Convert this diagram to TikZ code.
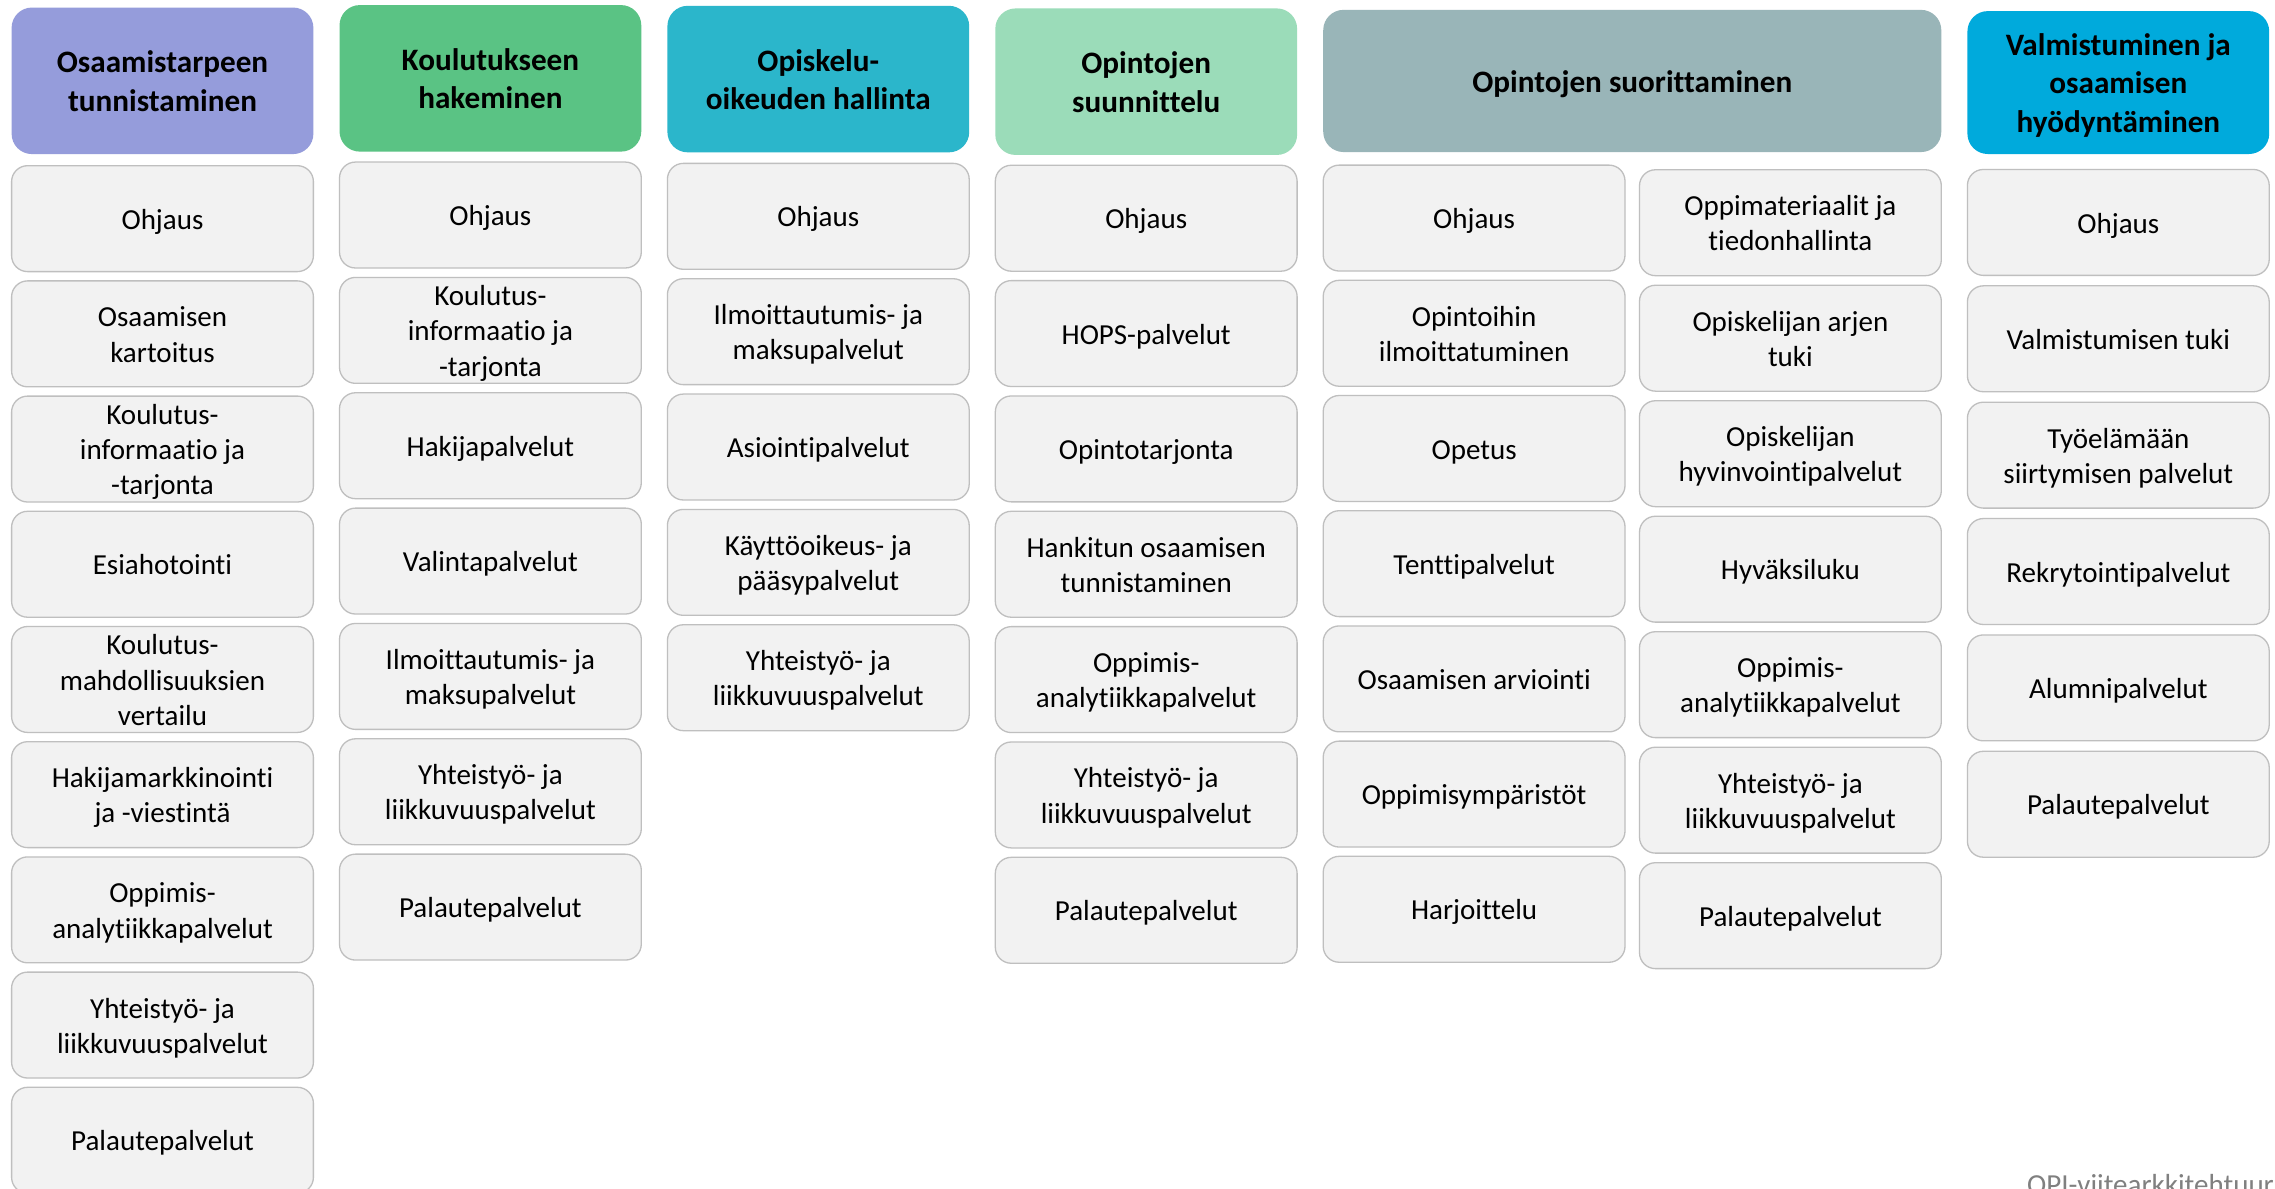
\documentclass[tikz,border=0pt]{standalone}
\usepackage{fontspec}
\usepackage{array}
\setmainfont{Carlito}[Ligatures={NoCommon}]
\definecolor{hA}{HTML}{959CDB}
\definecolor{hB}{HTML}{5AC384}
\definecolor{hC}{HTML}{2BB6CB}
\definecolor{hD}{HTML}{9BDCB9}
\definecolor{hE}{HTML}{99B5B8}
\definecolor{hF}{HTML}{00AADC}
\definecolor{itemfill}{HTML}{F2F2F2}
\definecolor{itemline}{HTML}{BFBFBF}
\definecolor{notegray}{HTML}{808080}
\renewcommand\arraystretch{0}
% text blocks with fixed line boxes, like the reference's text frames
\newcommand\itemtxt[1]{\begin{tabular}{@{}>{\rule[-4.85pt]{0pt}{24.3pt}}c@{}}#1\end{tabular}}
\newcommand\headtxt[1]{\begin{tabular}{@{}>{\rule[-5.55pt]{0pt}{26.5pt}}c@{}}#1\end{tabular}}
\tikzset{
  headbox/.style={rectangle, rounded corners=14pt, minimum width=208pt, minimum height=101pt,
    inner sep=0pt, font=\fontsize{21.5}{26.5}\selectfont\bfseries},
  itembox/.style={rectangle, rounded corners=11pt, draw=itemline, line width=0.9pt, fill=itemfill,
    minimum width=208pt, minimum height=73pt, inner sep=0pt,
    font=\fontsize{20}{24.3}\selectfont},
}
\begin{document}
\begin{tikzpicture}[x=1pt,y=-1pt]
\clip (0,0) rectangle (1568,819);
\fill[white] (0,0) rectangle (1568,819);
% headers
\node[headbox, fill=hA] (h1) at (112,55.7) {\headtxt{Osaamistarpeen\\tunnistaminen}};
\node[headbox, fill=hB] (h2) at (338,54) {\headtxt{Koulutukseen\\hakeminen}};
\node[headbox, fill=hC] (h3) at (564,54.5) {\headtxt{Opiskelu-\\oikeuden hallinta}};
\node[headbox, fill=hD] (h4) at (790,56.3) {\headtxt{Opintojen\\suunnittelu}};
\node[headbox, fill=hE, minimum width=426pt, minimum height=98pt] (h5) at (1125,55.8) {\headtxt{Opintojen suorittaminen}};
\node[headbox, fill=hF, minimum height=98.5pt] (h6) at (1460,56.9) {\headtxt{Valmistuminen ja\\osaamisen\\hyödyntäminen}};
% column 1
\foreach [count=\i] \t in {{Ohjaus},{Osaamisen\\kartoitus},{Koulutus-\\informaatio ja\\-tarjonta},{Esiahotointi},{Koulutus-\\mahdollisuuksien\\vertailu},{Hakijamarkkinointi\\ja -viestintä},{Oppimis-\\analytiikkapalvelut},{Yhteistyö- ja\\liikkuvuuspalvelut},{Palautepalvelut}}
  \node[itembox] (a\i) at (112,{150.7+79.4*(\i-1)}) {\itemtxt{\t}};
% column 2
\foreach [count=\i] \t in {{Ohjaus},{Koulutus-\\informaatio ja\\-tarjonta},{Hakijapalvelut},{Valintapalvelut},{Ilmoittautumis- ja\\maksupalvelut},{Yhteistyö- ja\\liikkuvuuspalvelut},{Palautepalvelut}}
  \node[itembox] (b\i) at (338,{148.2+79.5*(\i-1)}) {\itemtxt{\t}};
% column 3
\foreach [count=\i] \t in {{Ohjaus},{Ilmoittautumis- ja\\maksupalvelut},{Asiointipalvelut},{Käyttöoikeus- ja\\pääsypalvelut},{Yhteistyö- ja\\liikkuvuuspalvelut}}
  \node[itembox] (c\i) at (564,{149.1+79.5*(\i-1)}) {\itemtxt{\t}};
% column 4
\foreach [count=\i] \t in {{Ohjaus},{HOPS-palvelut},{Opintotarjonta},{Hankitun osaamisen\\tunnistaminen},{Oppimis-\\analytiikkapalvelut},{Yhteistyö- ja\\liikkuvuuspalvelut},{Palautepalvelut}}
  \node[itembox] (d\i) at (790,{150.4+79.5*(\i-1)}) {\itemtxt{\t}};
% column 5a
\foreach [count=\i] \t in {{Ohjaus},{Opintoihin\\ilmoittatuminen},{Opetus},{Tenttipalvelut},{Osaamisen arviointi},{Oppimisympäristöt},{Harjoittelu}}
  \node[itembox] (e\i) at (1016,{150.3+79.4*(\i-1)}) {\itemtxt{\t}};
% column 5b
\foreach [count=\i] \t in {{Oppimateriaalit ja\\tiedonhallinta},{Opiskelijan arjen\\tuki},{Opiskelijan\\hyvinvointipalvelut},{Hyväksiluku},{Oppimis-\\analytiikkapalvelut},{Yhteistyö- ja\\liikkuvuuspalvelut},{Palautepalvelut}}
  \node[itembox] (f\i) at (1234,{153.5+79.6*(\i-1)}) {\itemtxt{\t}};
% column 6
\foreach [count=\i] \t in {{Ohjaus},{Valmistumisen tuki},{Työelämään\\siirtymisen palvelut},{Rekrytointipalvelut},{Alumnipalvelut},{Palautepalvelut}}
  \node[itembox] (g\i) at (1460,{153.3+80.2*(\i-1)}) {\itemtxt{\t}};
% footer note (cut off by the picture's edge, as in the reference)
\node[anchor=base west, inner sep=0pt, text=notegray, font=\fontsize{20}{24}\selectfont] (note) at (1397,823) {OPI-viitearkkitehtuuri};
\end{tikzpicture}
\end{document}
